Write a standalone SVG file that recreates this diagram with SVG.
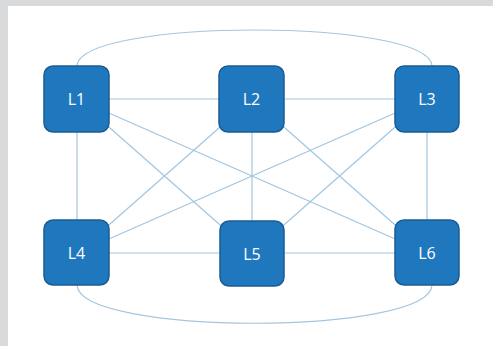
<svg xmlns="http://www.w3.org/2000/svg" width="493" height="346" viewBox="0 0 493 346">
  <style>
    .link { fill: none; stroke: #a3c6e0; stroke-width: 1.2; }
    .box { fill: #1f78bd; stroke: #1a5c93; stroke-width: 1.5; }
    .label { fill: #ffffff; font-family: "Open Sans", "Liberation Sans", sans-serif; font-size: 16px; text-anchor: middle; dominant-baseline: central; }
  </style>
  <!-- page frame -->
  <rect x="0" y="0" width="493" height="346" fill="#d9dadb"/>
  <rect x="8" y="6" width="485" height="340" fill="#ffffff"/>

  <!-- full-mesh links between the six nodes -->
  <g id="connectors">
    <line class="link" x1="77" y1="99" x2="252" y2="99"/>
    <line class="link" x1="252" y1="99" x2="427" y2="99"/>
    <line class="link" x1="77" y1="253" x2="252" y2="253"/>
    <line class="link" x1="252" y1="253" x2="427" y2="253"/>
    <line class="link" x1="77" y1="99" x2="77" y2="253"/>
    <line class="link" x1="252" y1="99" x2="252" y2="253"/>
    <line class="link" x1="427" y1="99" x2="427" y2="253"/>
    <line class="link" x1="77" y1="99" x2="252" y2="253"/>
    <line class="link" x1="77" y1="99" x2="427" y2="253"/>
    <line class="link" x1="252" y1="99" x2="77" y2="253"/>
    <line class="link" x1="252" y1="99" x2="427" y2="253"/>
    <line class="link" x1="427" y1="99" x2="77" y2="253"/>
    <line class="link" x1="427" y1="99" x2="252" y2="253"/>
    <path class="link" d="M77,66 C79,18 430,18 432,66"/>
    <path class="link" d="M77,285 C79,336 430,336 432,285"/>
  </g>

  <g id="L1"><rect class="box" x="44" y="66" width="65" height="66" rx="9"/><text class="label" x="76.5" y="99">L1</text></g>
  <g id="L2"><rect class="box" x="219" y="66" width="65" height="66" rx="9"/><text class="label" x="251.5" y="99">L2</text></g>
  <g id="L3"><rect class="box" x="395" y="66" width="64" height="66" rx="9"/><text class="label" x="427" y="99">L3</text></g>
  <g id="L4"><rect class="box" x="44" y="220" width="65" height="65" rx="9"/><text class="label" x="76.5" y="252.5">L4</text></g>
  <g id="L5"><rect class="box" x="220" y="221" width="64" height="65" rx="9"/><text class="label" x="252" y="253.5">L5</text></g>
  <g id="L6"><rect class="box" x="395" y="220" width="64" height="65" rx="9"/><text class="label" x="427" y="252.5">L6</text></g>
</svg>
